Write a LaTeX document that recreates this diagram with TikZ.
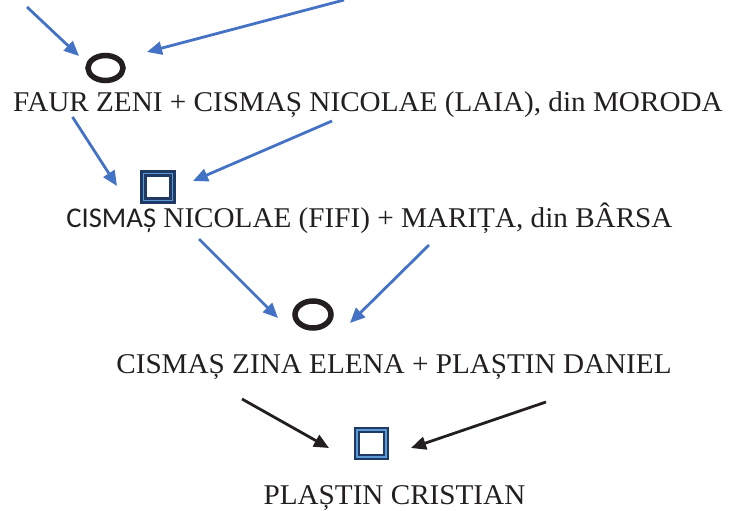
\documentclass[tikz,border=0pt]{standalone}
\usepackage{fontspec}
\setmainfont{Liberation Serif}[FakeStretch=1.02]
\newfontfamily\calibrifont{Carlito}
\usetikzlibrary{arrows.meta,shapes.geometric}
\definecolor{arrowblue}{RGB}{68,114,196}
\definecolor{navyblue}{RGB}{31,56,100}
\definecolor{lightblue}{RGB}{91,155,213}
\definecolor{ink}{RGB}{35,31,32}
\begin{document}
\begin{tikzpicture}[x=1pt,y=-1pt,
  lbl/.style={anchor=base, inner sep=0pt, text=ink, font=\fontsize{28.6}{31}\selectfont},
  marriage/.style={ellipse, draw=ink, line width=5.5pt, inner sep=0pt, minimum width=35pt, minimum height=25pt},
  child/.style={rectangle, draw=navyblue, line width=2.6pt, double=lightblue, double distance=1.2pt, fill=white, inner sep=0pt, minimum width=29pt, minimum height=27pt},
  bluearrow/.style={draw=arrowblue, line width=2.8pt, -{Triangle[length=15pt,width=13pt]}},
  blackarrow/.style={draw=ink, line width=2.8pt, -{Triangle[length=15pt,width=13pt]}}
]
\useasboundingbox (0,0) rectangle (731,511);

% text lines
\node[lbl] (t1) at (368,111) {FAUR ZENI + CISMAȘ NICOLAE (LAIA), din MORODA};
\node[lbl] (t2) at (369.5,227) {{\calibrifont CISMAȘ} NICOLAE (FIFI) + MARIȚA, din BÂRSA};
\node[lbl] (t3) at (394,373) {CISMAȘ ZINA ELENA + PLAȘTIN DANIEL};
\node[lbl] (t4) at (394.5,504) {PLAȘTIN CRISTIAN};

% symbols
\node[marriage] (c1) at (105.5,68) {};
\node[child] (s1) at (158,187) {};
\node[marriage, minimum width=36pt, minimum height=27pt] (c2) at (313,314.5) {};
\node[child] (s2) at (371.5,443.5) {};

% connector ends
\coordinate (a1s) at (27,7);
\coordinate (a1e) at (79,56);
\coordinate (a2s) at (344,0);
\coordinate (a2e) at (147,52);
\coordinate (a3s) at (72.5,117);
\coordinate (a3e) at (117,186);
\coordinate (a4s) at (332,121);
\coordinate (a4e) at (193,181);
\coordinate (a5s) at (199,239);
\coordinate (a5e) at (278,318);
\coordinate (a6s) at (429,245);
\coordinate (a6e) at (350,323);
\coordinate (a7s) at (242,399);
\coordinate (a7e) at (329,448);
\coordinate (a8s) at (546,402);
\coordinate (a8e) at (411,448);

\draw[bluearrow] (a1s) -- (a1e);
\draw[bluearrow] (a2s) -- (a2e);
\draw[bluearrow] (a3s) -- (a3e);
\draw[bluearrow] (a4s) -- (a4e);
\draw[bluearrow] (a5s) -- (a5e);
\draw[bluearrow] (a6s) -- (a6e);
\draw[blackarrow] (a7s) -- (a7e);
\draw[blackarrow] (a8s) -- (a8e);
\end{tikzpicture}
\end{document}
